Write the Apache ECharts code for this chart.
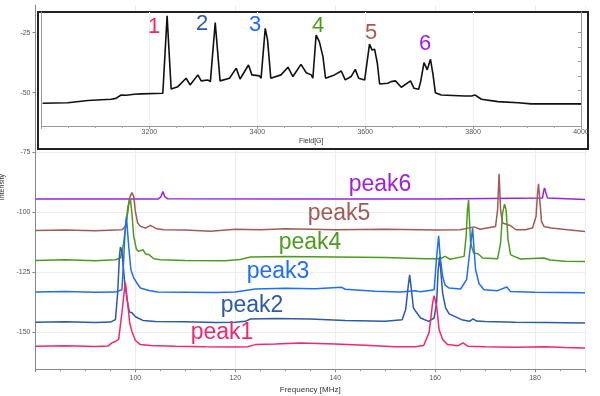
<!DOCTYPE html>
<html>
<head>
<meta charset="utf-8">
<script src="https://cdn.jsdelivr.net/npm/echarts@6/dist/echarts.min.js"></script>
<style>
  html, body { margin: 0; padding: 0; background: #fff; }
  #chart { width: 600px; height: 396px; }
</style>
</head>
<body>
<div id="chart"></div>
<script>
// main spectra: frequency [MHz] and intensity for each trace
const p1Freq = [80, 86, 92, 94.5, 95.3, 96.0, 96.65, 97.3, 97.8, 98.0, 98.3, 98.86, 99.3, 100, 101, 103, 108, 114, 120, 122.5, 124, 128, 133, 140, 146, 152, 156, 157.7, 158.8, 159.5, 159.8, 160.3, 160.8, 161.5, 162.5, 164.5, 165.6, 166.6, 170, 176, 182, 186, 190];
const p1Int = [-155.8, -155.6, -155.9, -155.7, -154.4, -153.8, -152.8, -141.9, -132.2, -129.2, -135, -146.1, -149.6, -153.4, -155.1, -155.5, -155.8, -156, -156.1, -156.0, -155.1, -154.8, -154.4, -154.8, -155.4, -156, -156, -155.5, -150, -137.6, -134.7, -139, -148.9, -153, -155.1, -155.6, -154.4, -155.8, -156, -156.2, -156, -156.3, -156.5];

const p2Freq = [80, 86, 92, 95, 96, 96.45, 96.8, 97.0, 97.3, 97.8, 98.3, 98.8, 99.3, 100, 101.5, 104, 110, 116, 120, 122, 123, 128, 135, 142, 150, 153.4, 154.1, 154.6, 154.9, 155.25, 155.65, 156.1, 157.1, 158.7, 159.8, 160.3, 160.6, 160.9, 161.5, 162.1, 162.8, 165.3, 166.9, 167.6, 168.3, 170, 176, 182, 186, 190];
const p2Int = [-145.8, -145.6, -145.9, -145.7, -144.7, -133.6, -118.3, -114.4, -116.2, -128, -136, -141.5, -141.8, -143.5, -145, -145.5, -145.6, -145.9, -145.8, -145.4, -144.4, -144.2, -144.4, -145, -145.4, -144.7, -140.5, -130.8, -126, -132.2, -139.8, -141.2, -144, -145.4, -144, -137.6, -124, -118.5, -133.6, -139.8, -142.3, -144.7, -145.4, -144.4, -145.3, -145.5, -145.8, -145.9, -146, -146.1];

const p3Freq = [80, 86, 92, 96, 97.3, 97.65, 97.9, 98.2, 98.33, 98.66, 99.1, 99.66, 100.3, 101, 102.7, 104.4, 110, 116, 120, 122, 124, 130, 136, 141.3, 142, 148, 153, 156.1, 157, 158.5, 159.8, 160.26, 160.7, 161.0, 161.5, 162, 162.8, 165.1, 166.3, 166.9, 167.5, 167.8, 168.1, 168.8, 169.8, 172.5, 174.35, 175.1, 180, 185, 190];
const p3Int = [-133.2, -133.0, -133.3, -133.2, -132.2, -119.7, -108.6, -101.7, -102.3, -114.2, -123.9, -127.3, -129.4, -131.5, -132.5, -133.2, -133.3, -133.4, -133.2, -132.5, -131.9, -131.6, -131.8, -131.2, -132, -132.8, -133.2, -132.6, -133.1, -132.6, -132.2, -119.7, -109.7, -118.3, -126.7, -130.3, -131.5, -131.9, -128, -116.9, -106.5, -115.5, -123.9, -129.7, -132.2, -132.6, -131.1, -133, -133.3, -133.4, -133.5];

const p4Freq = [80, 86, 92, 96, 97, 97.65, 98.2, 98.5, 99.0, 99.3, 99.66, 100.2, 100.66, 101.5, 102, 102.7, 103.7, 105, 110, 118, 121, 123, 130, 140, 150, 158, 161, 162, 163, 165.8, 166.2, 166.47, 166.7, 166.8, 167.1, 167.7, 168.6, 169.5, 172.5, 173.1, 173.5, 173.9, 174.2, 174.6, 175.1, 175.8, 177.1, 181.8, 183, 186, 190];
const p4Int = [-120, -119.7, -120.1, -119.7, -119, -112.7, -103, -97.5, -94.4, -100.3, -110, -115.3, -116.2, -115.5, -117.2, -117.6, -119.3, -119.7, -120, -120.1, -119.6, -118.6, -118.4, -118.6, -118.8, -119.3, -119.3, -118.3, -119.5, -118.3, -110, -98.9, -94.7, -100.3, -112.7, -116.9, -117.2, -119, -119.3, -112.7, -100.3, -96.5, -98.9, -111.4, -117.6, -118.3, -119.4, -119, -119.8, -120.3, -120.4];

const p5Freq = [80, 86, 92, 97.3, 98, 98.45, 98.8, 99.3, 99.66, 100, 100.46, 101, 102, 103, 104.3, 105.7, 110, 115, 120, 125, 130, 135, 140, 150, 160, 165, 167.8, 169, 172.1, 172.5, 172.8, 173.1, 173.5, 175, 176.2, 178, 179.5, 180.2, 180.5, 180.7, 181, 181.3, 181.8, 183.2, 186.5, 190];
const p5Int = [-107.5, -107.3, -107.6, -107.2, -105.8, -100.3, -94, -91.7, -93.3, -99.6, -104.4, -105.8, -106.5, -105.4, -106.8, -107.2, -107.3, -107.8, -107, -107.2, -106.8, -107, -107.2, -107, -107.3, -107.2, -106, -107, -105.8, -98.9, -83.9, -98.9, -104.4, -105.4, -107.2, -107.2, -106.5, -101.7, -91.9, -88, -96.1, -103.8, -105.8, -106.5, -107.2, -107.9];

const p6Freq = [80, 104.5, 105.1, 105.5, 105.9, 106.5, 130, 160, 181.5, 181.7, 181.9, 182.2, 182.5, 182.8, 190];
const p6Int = [-94.4, -94.4, -93.5, -91.2, -93.5, -94.3, -94.4, -94.4, -94, -91.2, -89.8, -92, -94, -94.5, -94.6];

// inset spectrum: field [G] and signal
const fieldG = [3002, 3049, 3086, 3129, 3138, 3147.5, 3157, 3172, 3184.6, 3224.9, 3232.8, 3240.3, 3252.7, 3268, 3275.5, 3289.8, 3296, 3308, 3313, 3322, 3331, 3348.5, 3361, 3368, 3383.7, 3390, 3404, 3407, 3414.7, 3419, 3425, 3444, 3456.8, 3466, 3481, 3490.7, 3500, 3503, 3509, 3515, 3521.7, 3526.5, 3543, 3555.6, 3563, 3574, 3581.6, 3587.8, 3599, 3602, 3608, 3612.6, 3617.4, 3622.5, 3626.7, 3642, 3648, 3651.6, 3656, 3667, 3684, 3690.5, 3699, 3702.8, 3709, 3715, 3721, 3725.8, 3730, 3741, 3784.4, 3797, 3804, 3815.4, 3846, 3883.5, 3908, 4000];
const fieldSig = [-54.4, -54.2, -53.3, -52.75, -52.4, -51, -51.1, -50.7, -50.5, -50.25, -18.0, -48.5, -47.5, -44, -46.8, -42.6, -45.1, -44.7, -45.4, -20.8, -45.1, -44, -39.8, -44.3, -38.5, -42.6, -43, -44, -23.2, -28, -44, -42.6, -39.4, -43.3, -38.2, -41.7, -42.6, -44, -26, -28.75, -35, -44, -42.6, -41, -44.7, -43.3, -40.3, -44, -44.7, -45.4, -29.8, -32.2, -31.9, -37.75, -46.4, -46.1, -45.4, -46.1, -45.1, -47.75, -45.1, -48.2, -48.6, -45.4, -37.5, -40.5, -36.1, -42.6, -50, -51, -51.4, -51.4, -51, -52.75, -53.75, -54.2, -54.7, -54.7];

const traceNames = ['peak1', 'peak2', 'peak3', 'peak4', 'peak5', 'peak6'];
const traceColors = ['#f5256e', '#2c5aa8', '#1f6ef5', '#4e9a1e', '#a35a55', '#a020e0'];
const yTicks = [-150, -125, -100, -75, -50, -25];

const pairs = (xs, ys) => xs.map((x, i) => [x, ys[i]]);
const traces = [
  pairs(p1Freq, p1Int), pairs(p2Freq, p2Int), pairs(p3Freq, p3Int),
  pairs(p4Freq, p4Int), pairs(p5Freq, p5Int), pairs(p6Freq, p6Int)
];

const font = 'Liberation Sans, Arial, sans-serif';
const chart = echarts.init(document.getElementById('chart'));

// draw order: later on top
const order = [5, 4, 3, 1, 2, 0];
const mainSeries = order.map((k) => ({
  name: traceNames[k],
  type: 'line',
  xAxisIndex: 0,
  yAxisIndex: 0,
  data: traces[k],
  showSymbol: false,
  lineStyle: { color: traceColors[k], width: 1.5 },
  z: 2,
  animation: false,
}));

// labels beside the traces
const labelPos = [[222, 333], [252, 306], [278, 272], [310, 243], [339, 214], [380, 185]];
const numPos = [[154, 27], [202, 24], [255, 25], [318, 26], [371, 33], [425, 44]];
const texts = [];
traceNames.forEach((n, k) => {
  texts.push({
    type: 'text', x: labelPos[k][0], y: labelPos[k][1], z: 20,
    style: { text: n, fill: traceColors[k], font: '23px ' + font, align: 'center', verticalAlign: 'middle' },
  });
  texts.push({
    type: 'text', x: numPos[k][0], y: numPos[k][1], z: 20,
    style: { text: String(k + 1), fill: traceColors[k], font: '22px ' + font, align: 'center', verticalAlign: 'middle' },
  });
});

const plain = (v) => String(v);

chart.setOption({
  backgroundColor: '#fff',
  animation: false,
  grid: [
    { left: 35.5, right: 15, top: 5, bottom: 26.7, containLabel: false, outerBoundsMode: 'none' },
    { left: 41.5, right: 19, top: 12, height: 114, containLabel: false, outerBoundsMode: 'none' },
  ],
  xAxis: [
    {
      gridIndex: 0, type: 'value', min: 80, max: 190, interval: 20,
      name: 'Frequency [MHz]', nameLocation: 'middle', nameGap: 13,
      nameTextStyle: { fontFamily: font, fontSize: 8, color: '#333' },
      axisLine: { lineStyle: { color: '#888' } },
      axisTick: { show: true, length: 3, lineStyle: { color: '#888' } },
      minorTick: { show: true, splitNumber: 4, length: 2, lineStyle: { color: '#999' } },
      axisLabel: { showMinLabel: false, showMaxLabel: false, formatter: plain, fontFamily: font, fontSize: 7, color: '#555', margin: 5 },
      splitLine: { show: true, lineStyle: { color: '#ececec' } },
    },
    {
      gridIndex: 1, type: 'value', min: 3000, max: 4000, interval: 200, z: 10,
      name: 'Field[G]', nameLocation: 'middle', nameGap: 12,
      nameTextStyle: { fontFamily: font, fontSize: 7, color: '#333' },
      axisLine: { lineStyle: { color: '#999' } },
      axisTick: { show: true, length: 3, lineStyle: { color: '#999' } },
      minorTick: { show: true, splitNumber: 4, length: 2, lineStyle: { color: '#aaa' } },
      axisLabel: { showMinLabel: false, formatter: plain, fontFamily: font, fontSize: 7, color: '#555', margin: 3 },
      splitLine: { show: true, lineStyle: { color: '#eeeeee' } },
    },
  ],
  yAxis: [
    {
      gridIndex: 0, type: 'value', min: -165.4, max: -13.46,
      name: 'Intensity', nameLocation: 'middle', nameGap: 24,
      nameTextStyle: { fontFamily: font, fontSize: 7, color: '#333' },
      axisLine: { show: true, lineStyle: { color: '#888' } },
      axisTick: { show: true, length: 3, customValues: yTicks, lineStyle: { color: '#888' } },
      axisLabel: { customValues: yTicks, formatter: plain, fontFamily: font, fontSize: 7, color: '#555', margin: 5 },
      splitLine: { show: true, lineStyle: { color: '#ededed' } },
    },
    {
      gridIndex: 1, type: 'value', min: -63.9, max: -16.4, z: 10,
      axisLine: { show: true, lineStyle: { color: '#999' } },
      axisTick: { show: false },
      axisLabel: { show: false },
      splitLine: { show: false },
    },
    {
      gridIndex: 1, type: 'value', min: -63.9, max: -16.4, position: 'right', z: 10,
      axisLine: { show: true, lineStyle: { color: '#999' } },
      axisTick: { show: true, inside: true, length: 3, customValues: [-55, -49, -43, -37, -31, -25], lineStyle: { color: '#999' } },
      axisLabel: { show: false },
      splitLine: { show: false },
    },
  ],
  graphic: [
    {
      type: 'rect', z: 1, silent: true,
      shape: { x: 38, y: 12, width: 550, height: 137 },
      style: { fill: '#fff', stroke: '#222', lineWidth: 2 },
    },
    ...texts,
  ],
  series: [
    ...mainSeries,
    {
      name: 'field', type: 'line', xAxisIndex: 1, yAxisIndex: 1, z: 12,
      data: pairs(fieldG, fieldSig), showSymbol: false,
      lineStyle: { color: '#111', width: 1.6 },
    },
  ],
});
</script>
</body>
</html>
